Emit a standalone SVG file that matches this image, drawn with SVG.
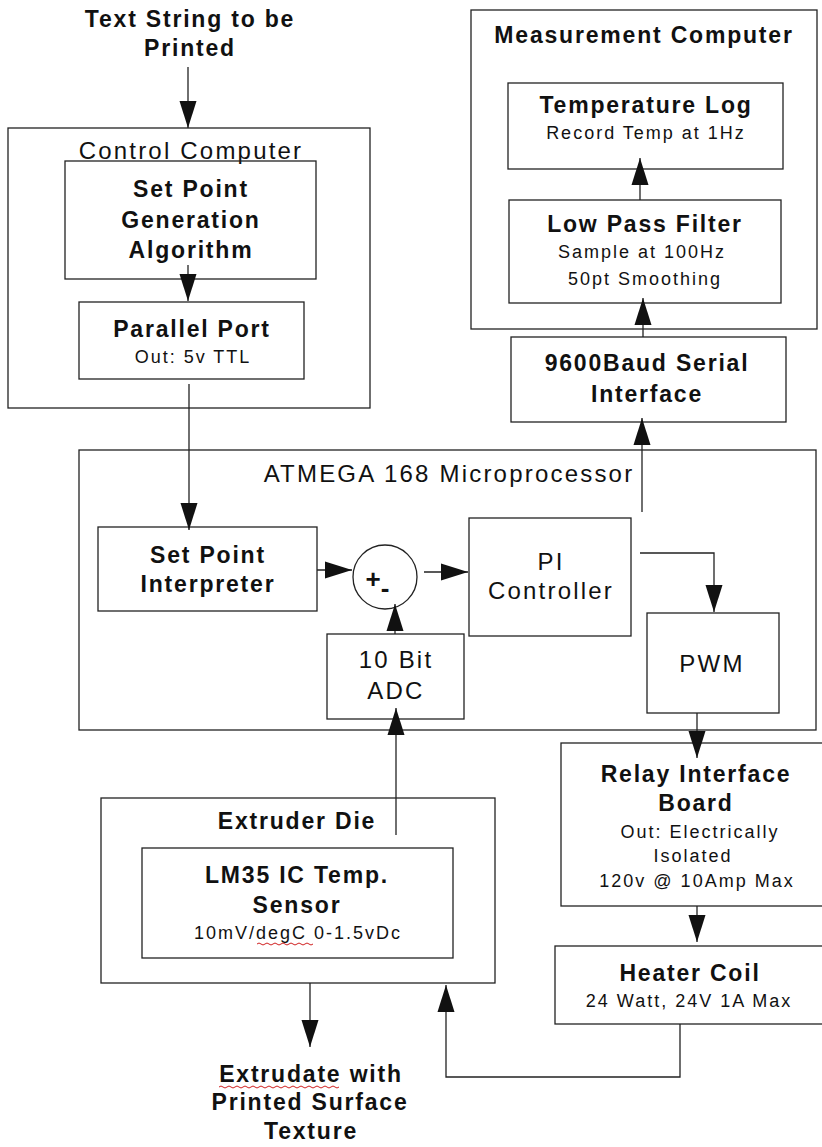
<svg xmlns="http://www.w3.org/2000/svg" width="822" height="1147" viewBox="0 0 822 1147">
<defs>
<marker id="ah" markerUnits="userSpaceOnUse" markerWidth="28" markerHeight="20" viewBox="0 0 28 20" refX="27" refY="10" orient="auto">
<path d="M0,1.5 L27,10 L0,18.5 z" fill="#111"/>
</marker>
</defs>
<style>
.box { fill: none; stroke: #222; stroke-width: 1.3; }
.c { fill: none; stroke: #222; stroke-width: 1.3; marker-end: url(#ah); }
text { font-family: "Liberation Sans", Arial, sans-serif; fill: #111; text-anchor: middle; }
.b { font-size: 23px; font-weight: bold; letter-spacing: 1.8px; }
.r { font-size: 24px; letter-spacing: 2.2px; }
.s { font-size: 18px; letter-spacing: 2px; }
.sq { fill: none; stroke: #d02020; stroke-width: 1; }
</style>
<rect x="0" y="0" width="822" height="1147" fill="#ffffff"/>

<g id="input-text">
<text class="b" x="190" y="27">Text String to be</text>
<text class="b" x="190" y="56">Printed</text>
</g>

<g id="control-computer">
<rect class="box" x="8" y="128" width="362" height="280"/>
<text class="r" x="191" y="159">Control Computer</text>
</g>

<g id="set-point-generation">
<rect class="box" x="65" y="161" width="251" height="118"/>
<text class="b" x="191" y="197">Set Point</text>
<text class="b" x="191" y="228">Generation</text>
<text class="b" x="191" y="258">Algorithm</text>
</g>

<g id="parallel-port">
<rect class="box" x="79" y="302" width="225" height="77"/>
<text class="b" x="192" y="337">Parallel Port</text>
<text class="s" x="193" y="363">Out: 5v TTL</text>
</g>

<g id="measurement-computer">
<rect class="box" x="471" y="10" width="346" height="319"/>
<text class="b" x="644" y="43">Measurement Computer</text>
</g>

<g id="temperature-log">
<rect class="box" x="508" y="83" width="275" height="86"/>
<text class="b" x="646" y="113">Temperature Log</text>
<text class="s" x="646" y="139">Record Temp at 1Hz</text>
</g>

<g id="low-pass-filter">
<rect class="box" x="509" y="200" width="272" height="103"/>
<text class="b" x="645" y="232">Low Pass Filter</text>
<text class="s" x="642" y="258">Sample at 100Hz</text>
<text class="s" x="645" y="285">50pt Smoothing</text>
</g>

<g id="serial-interface">
<rect class="box" x="511" y="337" width="275" height="85"/>
<text class="b" x="647" y="371">9600Baud Serial</text>
<text class="b" x="647" y="402">Interface</text>
</g>

<g id="atmega">
<rect class="box" x="79" y="450" width="737" height="280"/>
<text class="r" x="449" y="482">ATMEGA 168 Microprocessor</text>
</g>

<g id="set-point-interpreter">
<rect class="box" x="98" y="527" width="219" height="84"/>
<text class="b" x="208" y="563">Set Point</text>
<text class="b" x="208" y="592">Interpreter</text>
</g>

<g id="summing-junction">
<circle class="box" cx="385" cy="577" r="32" stroke-width="1"/>
<text x="373" y="588" style="font-size:26px;font-weight:bold;">+</text>
<text x="385" y="597" style="font-size:26px;font-weight:bold;">-</text>
</g>

<g id="pi-controller">
<rect class="box" x="469" y="518" width="162" height="118"/>
<text class="r" x="551" y="570">PI</text>
<text class="r" x="551" y="599">Controller</text>
</g>

<g id="adc">
<rect class="box" x="327" y="634" width="137" height="85"/>
<text class="r" x="396" y="668">10 Bit</text>
<text class="r" x="396" y="699">ADC</text>
</g>

<g id="pwm">
<rect class="box" x="647" y="613" width="132" height="100"/>
<text class="r" x="712" y="672">PWM</text>
</g>

<g id="relay-board">
<rect class="box" x="561" y="743" width="280" height="163"/>
<text class="b" x="696" y="782">Relay Interface</text>
<text class="b" x="696" y="811">Board</text>
<text class="s" x="700" y="838">Out: Electrically</text>
<text class="s" x="693" y="862">Isolated</text>
<text class="s" x="697" y="887">120v @ 10Amp Max</text>
</g>

<g id="heater-coil">
<rect class="box" x="555" y="946" width="290" height="78"/>
<text class="b" x="690" y="981">Heater Coil</text>
<text class="s" x="689" y="1007">24 Watt, 24V 1A Max</text>
</g>

<g id="extruder-die">
<rect class="box" x="101" y="798" width="394" height="185"/>
<text class="b" x="297" y="829">Extruder Die</text>
</g>

<g id="lm35-sensor">
<rect class="box" x="142" y="848" width="311" height="110"/>
<text class="b" x="297" y="883">LM35 IC Temp.</text>
<text class="b" x="297" y="913">Sensor</text>
<text class="s" x="298" y="939">10mV/degC 0-1.5vDc</text>
<path class="sq" d="M257,944 q2,-2 4,0 t4,0 t4,0 t4,0 t4,0 t4,0 t4,0 t4,0 t4,0 t4,0 t4,0 t4,0 t4,0 t4,0"/>
</g>

<g id="output-text">
<text class="b" x="311" y="1082">Extrudate with</text>
<text class="b" x="310" y="1110">Printed Surface</text>
<text class="b" x="311" y="1139">Texture</text>
<path class="sq" d="M219,1087 q2,-2 4,0 t4,0 t4,0 t4,0 t4,0 t4,0 t4,0 t4,0 t4,0 t4,0 t4,0 t4,0 t4,0 t4,0 t4,0 t4,0 t4,0 t4,0 t4,0 t4,0 t4,0 t4,0 t4,0 t4,0 t4,0 t4,0 t4,0 t4,0 t4,0 t4,0"/>
</g>

<g id="connectors">
<path class="c" d="M188,67 L188,128"/>
<path class="c" d="M188,265 L188,301"/>
<path class="c" d="M189,384 L189,530"/>
<path class="c" d="M317,570 L352,570"/>
<path class="c" d="M424,572 L468,572"/>
<path class="c" d="M395,634 L395,604"/>
<path class="c" d="M642,512 L642,418"/>
<path class="c" d="M643,337 L643,298"/>
<path class="c" d="M640,200 L640,158"/>
<path class="c" d="M640,553 L714,553 L714,612"/>
<path class="c" d="M697,713 L697,758"/>
<path class="c" d="M697,906 L697,942"/>
<path class="c" d="M680,1024 L680,1077 L446,1077 L446,985"/>
<path class="c" d="M396,835 L396,708"/>
<path class="c" d="M310,983 L310,1047"/>
</g>
</svg>
